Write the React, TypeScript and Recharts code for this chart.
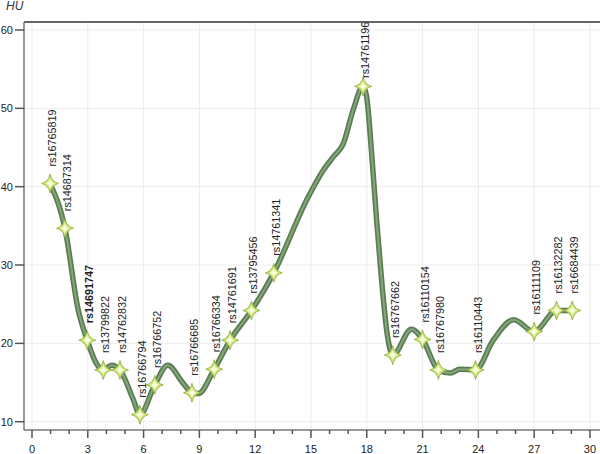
import React from "react";
import {
  ComposedChart,
  Line,
  Scatter,
  XAxis,
  YAxis,
  ReferenceLine,
} from "recharts";

// SNP markers along the trace
const snpIds = [
  "rs16765819",
  "rs14687314",
  "rs14691747",
  "rs13799822",
  "rs14762832",
  "rs16766794",
  "rs16766752",
  "rs16766685",
  "rs16766334",
  "rs14761691",
  "rs13795456",
  "rs14761341",
  "rs14761196",
  "rs16767662",
  "rs16110154",
  "rs16767980",
  "rs16110443",
  "rs16111109",
  "rs16132282",
  "rs16684439",
];
const snpPos = [
  0.97, 1.77, 2.97, 3.83, 4.73, 5.8, 6.6, 8.6, 9.8, 10.65, 11.8, 13.0, 17.8,
  19.4, 21.0, 21.85, 23.85, 27.0, 28.2, 29.05,
];
const snpHu = [
  40.4, 34.7, 20.4, 16.6, 16.6, 10.9, 14.7, 13.7, 16.7, 20.4, 24.2, 29.0, 52.8,
  18.5, 20.5, 16.6, 16.6, 21.5, 24.2, 24.2,
];
const leadSnp = "rs14691747";

// smoothed trace (markers plus the bends between them)
const curveX = [
  0.97, 1.77, 2.49, 2.97, 3.47, 3.83, 4.28, 4.73, 5.45, 5.8, 6.6, 7.3, 8.13,
  8.6, 8.95, 9.8, 10.65, 11.8, 13.0, 14.77, 15.66, 16.2, 16.74, 17.27, 17.8,
  17.99, 18.26, 18.53, 18.8, 19.07, 19.4, 20.4, 21.0, 21.85, 22.5, 23.0, 23.85,
  24.8, 25.9, 27.0, 28.2, 29.05,
];
const curveY = [
  40.4, 34.7, 24.2, 20.4, 17.4, 16.6, 17.2, 16.6, 12.8, 10.9, 14.7, 17.2, 14.9,
  13.7, 13.6, 16.7, 20.4, 24.2, 29.0, 38.3, 42.1, 43.8, 45.5, 49.8, 52.8, 51.5,
  44.3, 35.7, 28.0, 21.7, 18.5, 21.8, 20.5, 16.6, 16.2, 16.7, 16.6, 20.4, 23.0,
  21.5, 24.2, 24.2,
];

const xTicks = Array.from({ length: 31 }, (_, i) => i);
const xGrid = [0, 3, 6, 9, 12, 15, 18, 21, 24, 27, 30];
const yTicks = [10, 20, 30, 40, 50, 60];

const curve = curveX.map((x, i) => ({ x, y: curveY[i] }));
const markers = snpIds.map((id, i) => ({ id, x: snpPos[i], y: snpHu[i] }));

const FONT = "'Liberation Sans', Arial, sans-serif";
const LABEL_SIZE = 10.8;
const LABEL_LEN = 6.1 * LABEL_SIZE; // rendered length of "rsNNNNNNNN"

function XTick({ x, y, payload }: any) {
  const v = payload.value as number;
  const major = v % 3 === 0;
  return (
    <g>
      <line x1={x} x2={x} y1={y} y2={y + (major ? 8 : 4)} stroke="#555" strokeWidth={1.5} />
      {major && (
        <text x={x} y={y + 23} textAnchor="middle" fontSize={11} fill="#222" fontFamily={FONT}>
          {v}
        </text>
      )}
    </g>
  );
}

function StarMarker({ cx, cy, payload }: any) {
  const star = (r: number, w: number, k: number) =>
    `M0,${-r} Q${k},${-k} ${w},0 Q${k},${k} 0,${r} Q${-k},${k} ${-w},0 Q${-k},${-k} 0,${-r} Z`;
  // lift the label above the star, but keep it inside the page
  const lift = Math.min(17, cy - 12 - LABEL_LEN);
  return (
    <g>
      <g transform={`translate(${cx},${cy})`}>
        <path d={star(9.5, 8.5, 1.6)} fill="#cfe574" stroke="#8da83c" strokeWidth={0.8} />
        <path d={star(5, 4.5, 0.9)} fill="#f6fbdc" />
      </g>
      <text
        transform={`translate(${cx + 6},${cy - lift}) rotate(-90)`}
        fontSize={LABEL_SIZE}
        fontWeight={payload.id === leadSnp ? "bold" : "normal"}
        fill="#222"
        fontFamily={FONT}
      >
        {payload.id}
      </text>
    </g>
  );
}

export default function App() {
  return (
    <div style={{ position: "absolute", left: 0, top: 0, width: 600, height: 454, background: "#fff" }}>
      <ComposedChart
        width={600}
        height={454}
        data={curve}
        margin={{ top: 22, right: 0, bottom: 0, left: 0 }}
      >
        <XAxis
          dataKey="x"
          type="number"
          domain={[-0.43, 30.54]}
          ticks={xTicks}
          interval={0}
          allowDataOverflow
          height={24}
          tickSize={0}
          tickMargin={0}
          tickLine={false}
          tick={<XTick />}
          axisLine={{ stroke: "#777", strokeWidth: 1.5 }}
        />
        <YAxis
          type="number"
          domain={[8.94, 61.02]}
          ticks={yTicks}
          allowDataOverflow
          width={24}
          tickSize={9}
          tickMargin={2}
          tickLine={{ stroke: "#555", strokeWidth: 1.5 }}
          axisLine={{ stroke: "#777", strokeWidth: 1.5 }}
          tick={{ fontSize: 11, fill: "#222", fontFamily: FONT }}
        />
        {xGrid.map((v) => (
          <ReferenceLine key={`gx${v}`} x={v} stroke="#ececec" strokeWidth={1} />
        ))}
        {yTicks.map((v) => (
          <ReferenceLine key={`gy${v}`} y={v} stroke="#ececec" strokeWidth={1} />
        ))}
        <ReferenceLine y={61.02} stroke="#666" strokeWidth={2} />
        <Line
          dataKey="y"
          type="monotone"
          stroke="#5a7d53"
          strokeWidth={5.5}
          dot={false}
          activeDot={false}
          isAnimationActive={false}
        />
        <Line
          dataKey="y"
          type="monotone"
          stroke="#86a57c"
          strokeWidth={2}
          dot={false}
          activeDot={false}
          isAnimationActive={false}
        />
        <Scatter data={markers} dataKey="y" shape={<StarMarker />} isAnimationActive={false} />
      </ComposedChart>
      <div
        style={{
          position: "absolute",
          left: 6,
          top: 0,
          fontFamily: FONT,
          fontStyle: "italic",
          fontSize: 12,
          lineHeight: "13px",
          color: "#333",
        }}
      >
        HU
      </div>
    </div>
  );
}
